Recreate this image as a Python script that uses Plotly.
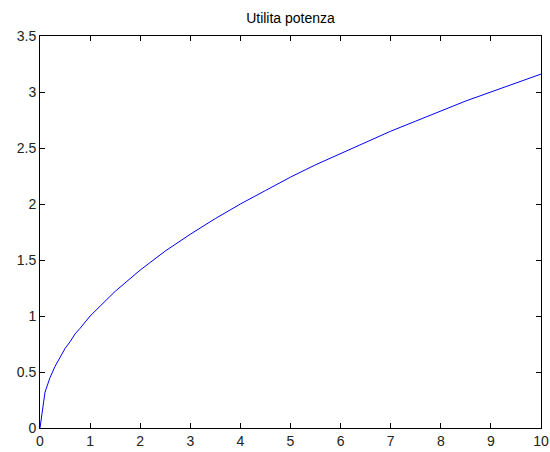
import plotly.graph_objects as go

# values
x_vals = [0, 0.1, 0.2, 0.3, 0.4, 0.5, 0.6, 0.7, 0.8, 0.9, 1.0, 1.5, 2.0, 2.5, 3.0, 3.5, 4.0,
          4.5, 5.0, 5.5, 6.0, 6.5, 7.0, 7.5, 8.0, 8.5, 9.0, 9.5, 10.0]
y_vals = [0, 0.32, 0.45, 0.55, 0.63, 0.71, 0.77, 0.84, 0.89, 0.95, 1.0, 1.22, 1.41, 1.58, 1.73,
          1.87, 2.0, 2.12, 2.24, 2.35, 2.45, 2.55, 2.65, 2.74, 2.83, 2.92, 3.0, 3.08, 3.16]
x_ticks = [0, 1, 2, 3, 4, 5, 6, 7, 8, 9, 10]
y_ticks = [0, 0.5, 1, 1.5, 2, 2.5, 3, 3.5]
y_labels = ["0", "0.5", "1", "1.5", "2", "2.5", "3", "3.5"]

fig = go.Figure(go.Scatter(x=x_vals, y=y_vals, mode="lines",
                           line=dict(color="#0000ff", width=1), hoverinfo="skip"))

axis_common = dict(showline=True, linecolor="black", linewidth=1, mirror="ticks",
                   ticks="inside", ticklen=5, tickcolor="black", tickwidth=1,
                   showgrid=False, zeroline=False, automargin=False,
                   tickfont=dict(family="Liberation Sans, Arial, sans-serif", size=14, color="#222222"))

fig.update_layout(
    width=550, height=452,
    margin=dict(l=40, r=9, t=36, b=24),
    paper_bgcolor="white", plot_bgcolor="white",
    showlegend=False,
    title=dict(text="Utilita potenza", x=0.5, xanchor="center", xref="paper",
               y=1 - 18 / 452, yref="container", yanchor="middle",
               font=dict(family="Liberation Sans, Arial, sans-serif", size=14, color="black")),
    xaxis=dict(range=[0, 10], tickvals=x_ticks, ticktext=[str(t) for t in x_ticks], **axis_common),
    yaxis=dict(range=[0, 3.5], tickvals=y_ticks, ticktext=y_labels, **axis_common),
)

fig.write_html("out.html", config={"displayModeBar": False},
               post_script="document.body.style.margin='0';document.body.style.overflow='hidden';")
